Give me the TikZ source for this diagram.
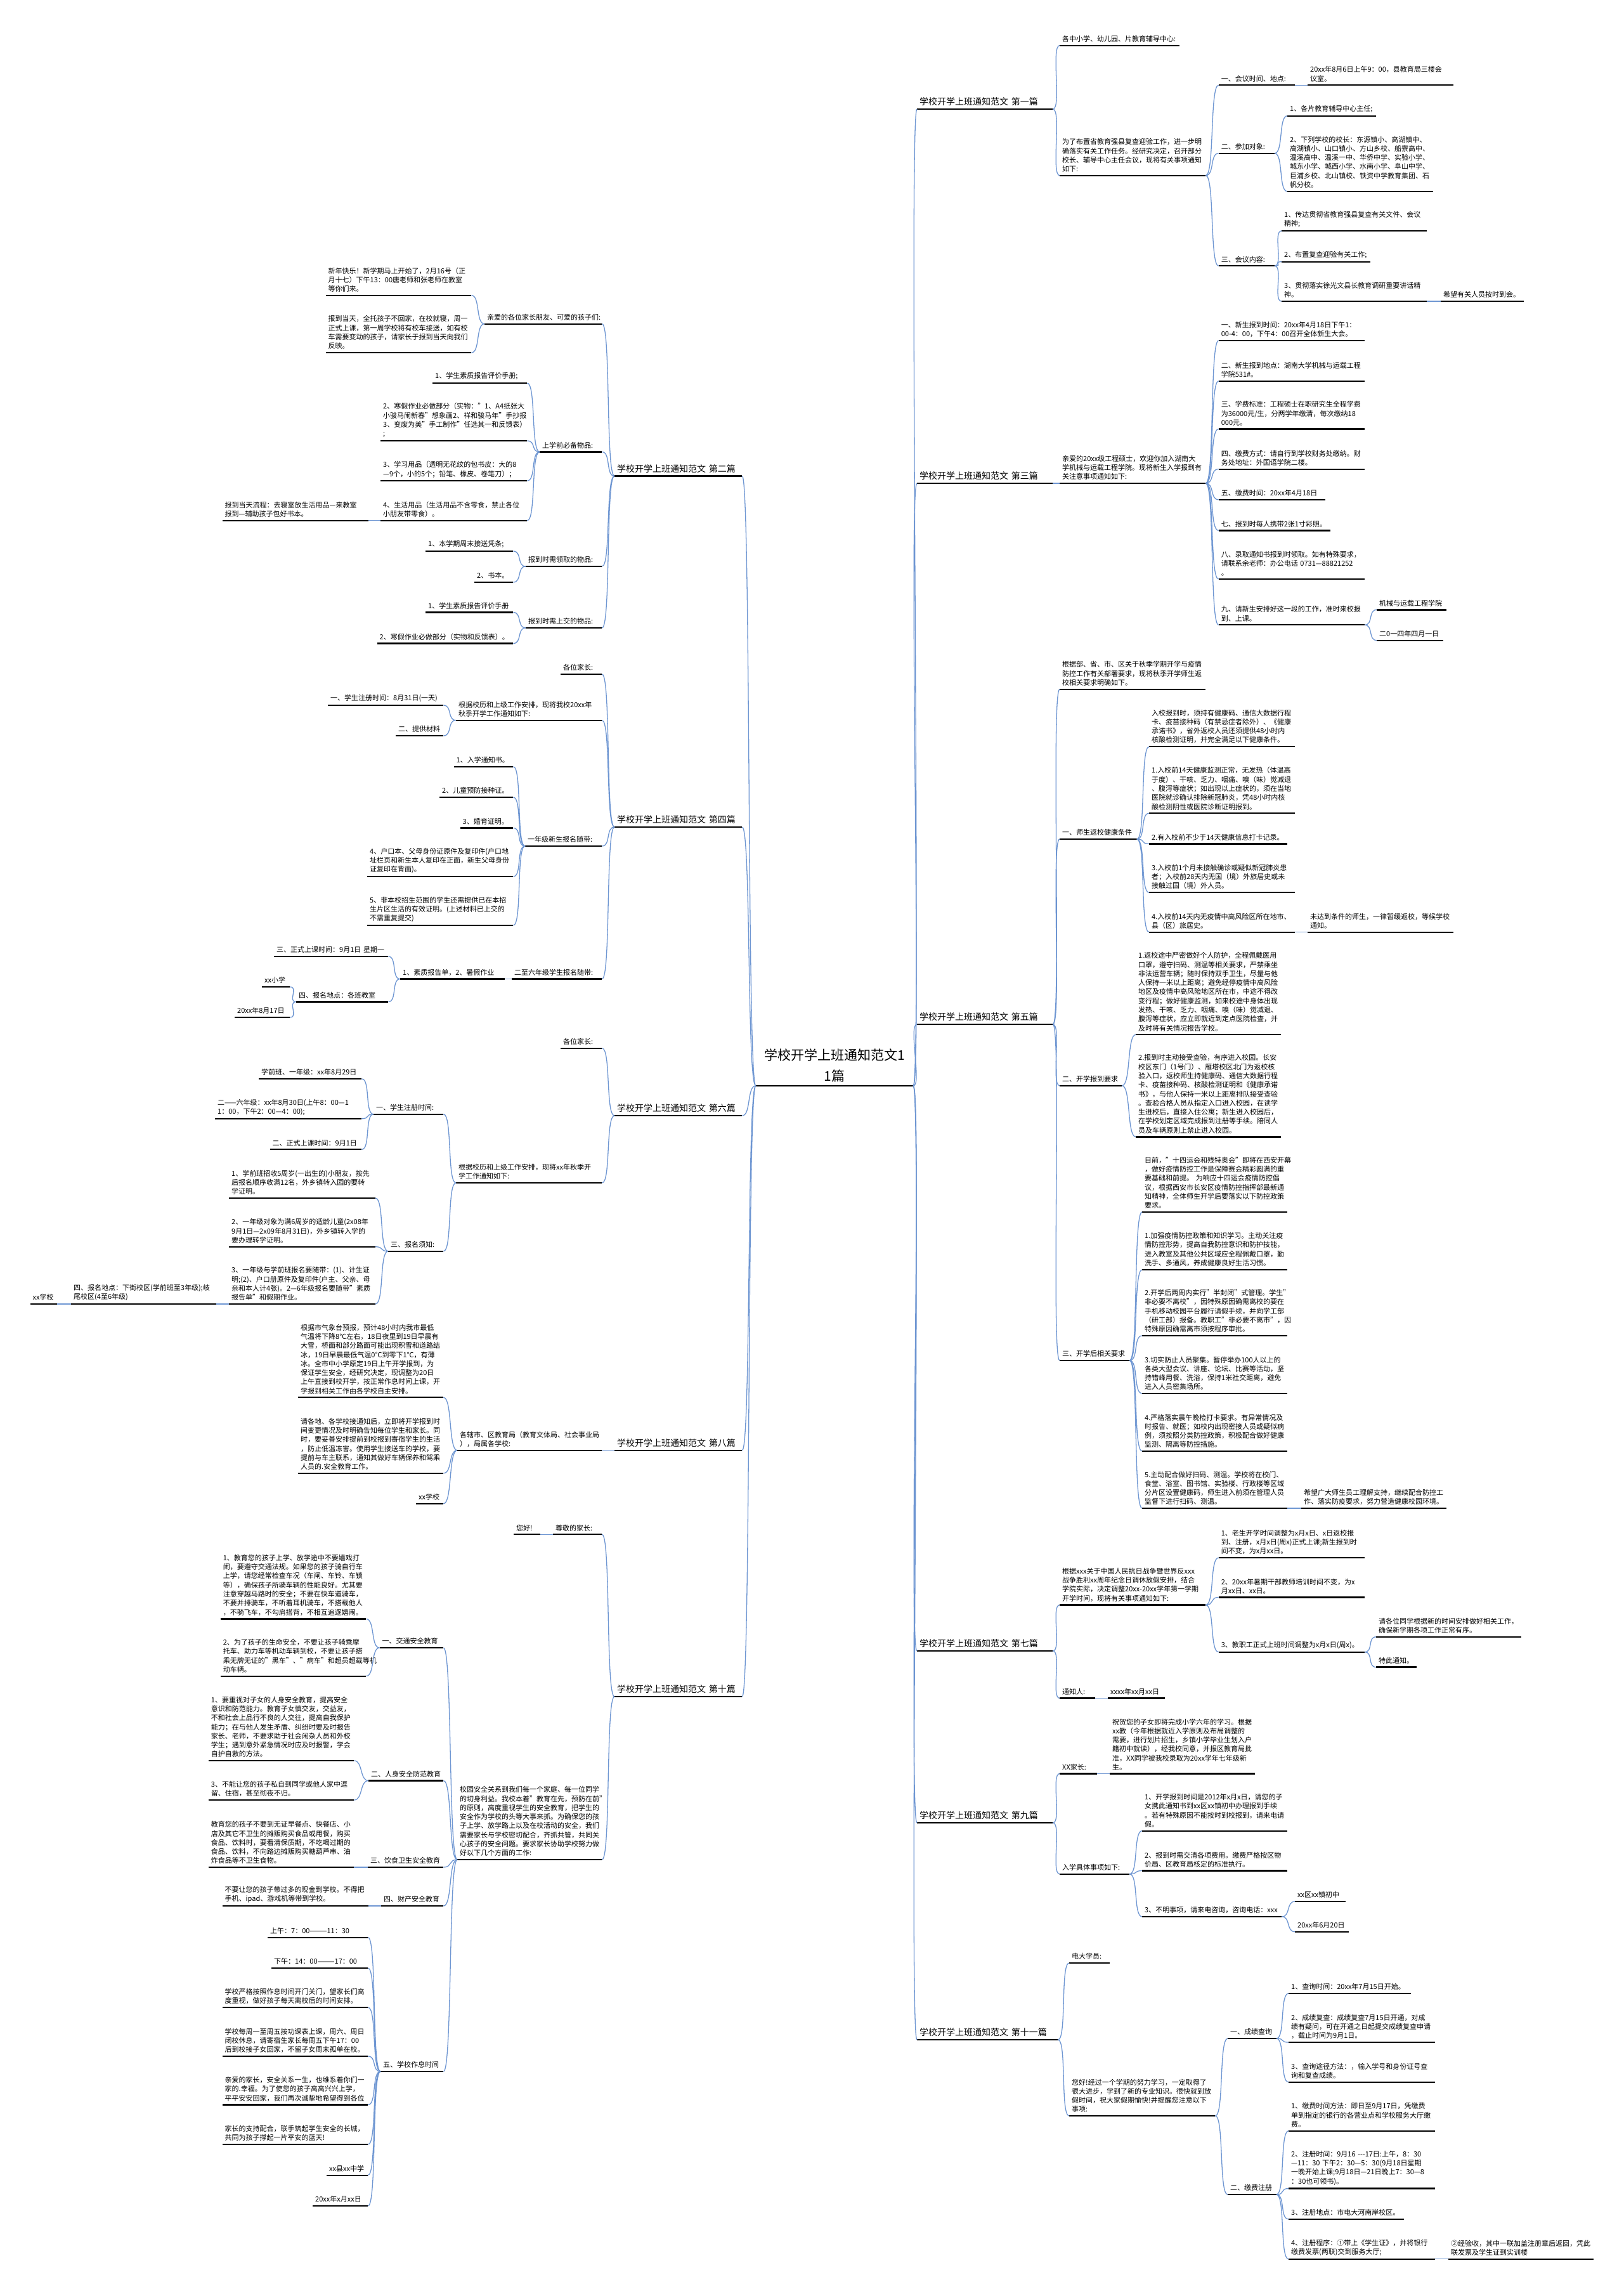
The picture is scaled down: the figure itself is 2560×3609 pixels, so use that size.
\documentclass[tikz,border=0pt]{standalone}
\usepackage{fontspec}
\setmainfont{Noto Sans CJK SC}
\definecolor{lineblue}{RGB}{110,150,210}
\newcommand{\leaffont}{\fontsize{11}{14.3}\selectfont}
\tikzset{
  uline/.style={draw=black, line width=2.2pt},
  leaf/.style={anchor=south west, align=left, inner xsep=4pt, inner ysep=5pt, font=\leaffont,
    append after command={(\tikzlastnode.south west) edge[uline] (\tikzlastnode.south east)}},
  branch/.style={leaf, font=\fontsize{14}{18}\selectfont},
  title/.style={leaf, anchor=south, align=center, inner ysep=6pt, font=\fontsize{21}{33}\selectfont},
  conn/.style={draw=lineblue, line width=1.3pt},
}
\begin{document}
\begin{tikzpicture}[x=1pt,y=-1pt]
\fill[white] (0,0) rectangle (2560,3609);
\useasboundingbox (0,0) rectangle (2560,3609);
% 中心主题
\node[title, text width=240pt] (root) at (1316,1712) {学校开学上班通知范文1\\1篇};
% 左侧分支
\node[branch, text width=193pt] (s2) at (969,750.5) {学校开学上班通知范文~第二篇};
\node[branch, text width=193pt] (s4) at (969,1304) {学校开学上班通知范文~第四篇};
\node[branch, text width=193pt] (s6) at (969,1759) {学校开学上班通知范文~第六篇};
\node[branch, text width=193pt] (s8) at (969,2286.7) {学校开学上班通知范文~第八篇};
\node[branch, text width=193pt] (s10) at (969,2675) {学校开学上班通知范文~第十篇};
% 右侧分支
\node[branch, text width=206pt] (s1) at (1446,172) {学校开学上班通知范文~第一篇};
\node[branch, text width=206pt] (s3) at (1446,762) {学校开学上班通知范文~第三篇};
\node[branch, text width=206pt] (s5) at (1446,1615) {学校开学上班通知范文~第五篇};
\node[branch, text width=206pt] (s7) at (1446,2603) {学校开学上班通知范文~第七篇};
\node[branch, text width=206pt] (s9) at (1446,2874) {学校开学上班通知范文~第九篇};
\node[branch, text width=214pt] (s11) at (1446,3216) {学校开学上班通知范文~第十一篇};

% 第二篇
\node[leaf, text width=177pt] (s2a) at (764,510.6) {亲爱的各位家长朋友、可爱的孩子们:};
\node[leaf, text width=221.5pt] (s2a1) at (513.5,465.7) {新年快乐！新学期马上开始了，2月16号（正\\月十七）下午13：00唐老师和张老师在教室\\等你们来。};
\node[leaf, text width=221.5pt] (s2a2) at (513.5,556) {报到当天，全托孩子不回家，在校就寝，周一\\正式上课，第一周学校将有校车接送，如有校\\车需要变动的孩子，请家长于报到当天向我们\\反映。};
\node[leaf, text width=90pt] (s2b) at (851,712.5) {上学前必备物品:};
\node[leaf, text width=141pt] (s2b1) at (682,604) {1、学生素质报告评价手册;};
\node[leaf, text width=223pt] (s2b2) at (600,695) {2、寒假作业必做部分（实物："1、A4纸张大\\小骏马闹新春"想象画2、祥和骏马年"手抄报\\3、变废为美"手工制作"任选其一和反馈表）\\;};
\node[leaf, text width=223pt] (s2b3) at (600,758) {3、学习用品（透明无花纹的包书皮：大的8\\—9个，小的5个；铅笔、橡皮、卷笔刀）；};
\node[leaf, text width=223pt] (s2b4) at (600,820.7) {4、生活用品（生活用品不含零食，禁止各位\\小朋友带零食）。};
\node[leaf, text width=222.5pt] (s2b4a) at (350.5,820.7) {报到当天流程：去寝室放生活用品—来教室\\报到—辅助孩子包好书本。};
\node[leaf, text width=112pt] (s2c) at (829,893) {报到时需领取的物品:};
\node[leaf, text width=130pt] (s2c1) at (671,869) {1、本学期周末接送凭条;};
\node[leaf, text width=53pt] (s2c2) at (748,918) {2、书本。};
\node[leaf, text width=112pt] (s2d) at (829,990) {报到时需上交的物品:};
\node[leaf, text width=130pt] (s2d1) at (671,965.5) {1、学生素质报告评价手册};
\node[leaf, text width=206.5pt] (s2d2) at (594.5,1014.5) {2、寒假作业必做部分（实物和反馈表）。};

% 第四篇
\node[leaf, text width=57pt] (s4a) at (884,1063) {各位家长:};
\node[leaf, text width=222pt] (s4b) at (719,1135.6) {根据校历和上级工作安排，现将我校20xx年\\秋季开学工作通知如下:};
\node[leaf, text width=174pt] (s4b1) at (517,1112) {一、学生注册时间：8月31日(一天)};
\node[leaf, text width=67pt] (s4b2) at (624,1160) {二、提供材料};
\node[leaf, text width=113pt] (s4c) at (828,1334) {一年级新生报名随带:};
\node[leaf, text width=85.5pt] (s4c1) at (715.5,1208.7) {1、入学通知书。};
\node[leaf, text width=108pt] (s4c2) at (693,1257) {2、儿童预防接种证。};
\node[leaf, text width=75.5pt] (s4c3) at (725.5,1305.5) {3、婚育证明。};
\node[leaf, text width=222pt] (s4c4) at (579,1382) {4、户口本、父母身份证原件及复印件(户口地\\址栏页和新生本人复印在正面，新生父母身份\\证复印在背面)。};
\node[leaf, text width=222pt] (s4c5) at (579,1459) {5、非本校招生范围的学生还需提供已在本招\\生片区生活的有效证明。(上述材料已上交的\\不需重复提交)};
\node[leaf, text width=134pt] (s4d) at (807,1543.5) {二至六年级学生报名随带:};
\node[leaf, text width=157pt] (s4d1) at (631,1543.5) {1、素质报告单，2、暑假作业};
\node[leaf, text width=172pt] (s4d1a) at (432,1508) {三、正式上课时间：9月1日~星期一};
\node[leaf, text width=137pt] (s4d1b) at (467,1579.5) {四、报名地点：各班教室};
\node[leaf, text width=36pt] (s4d1b1) at (413,1556) {xx小学};
\node[leaf, text width=79pt] (s4d1b2) at (370,1604) {20xx年8月17日};

% 第六篇
\node[leaf, text width=57pt] (s6a) at (884,1652.7) {各位家长:};
\node[leaf, text width=222pt] (s6b) at (719,1865) {根据校历和上级工作安排，现将xx年秋季开\\学工作通知如下:};
\node[leaf, text width=102pt] (s6b1) at (589,1756.7) {一、学生注册时间:};
\node[leaf, text width=79pt] (s6b2) at (612,1972.7) {三、报名须知:};
\node[leaf, text width=154pt] (s6b1a) at (408,1701) {学前班、一年级：xx年8月29日};
\node[leaf, text width=223pt] (s6b1b) at (339,1763.7) {二——六年级：xx年8月30日(上午8：00—1\\1：00，下午2：00—4：00);};
\node[leaf, text width=136.5pt] (s6b1c) at (425.5,1812.3) {二、正式上课时间：9月1日};
\node[leaf, text width=222.6pt] (s6b2a) at (361,1889) {1、学前班招收5周岁(一出生的)小朋友，按先\\后报名顺序收满12名，外乡镇转入园的要转\\学证明。};
\node[leaf, text width=222.6pt] (s6b2b) at (361,1965.7) {2、一年级对象为满6周岁的适龄儿童(2x08年\\9月1日—2x09年8月31日)，外乡镇转入学的\\要办理转学证明。};
\node[leaf, text width=222.6pt] (s6b2c) at (361,2056) {3、一年级与学前班报名要随带：(1)、计生证\\明;(2)、户口册原件及复印件(户主、父亲、母\\亲和本人计4张)。2—6年级报名要随带"素质\\报告单"和假期作业。};
\node[leaf, text width=221pt] (s6b2c1) at (112,2056) {四、报名地点：下街校区(学前班至3年级);岐\\尾校区(4至6年级)};
\node[leaf, text width=34.5pt] (s6b2c1a) at (47.5,2056) {xx学校};

% 第八篇
\node[leaf, text width=220pt] (s8a) at (721,2286.7) {各辖市、区教育局（教育文体局、社会事业局\\），局属各学校:};
\node[leaf, text width=221pt] (s8a1) at (470,2203.3) {根据市气象台预报，预计48小时内我市最低\\气温将下降8℃左右，18日夜里到19日早晨有\\大雪，桥面和部分路面可能出现积雪和道路结\\冰，19日早晨最低气温0℃到零下1℃，有薄\\冰。全市中小学原定19日上午开学报到，为\\保证学生安全，经研究决定，现调整为20日\\上午直接到校开学，按正常作息时间上课，开\\学报到相关工作由各学校自主安排。};
\node[leaf, text width=221pt] (s8a2) at (470,2322.7) {请各地、各学校接通知后，立即将开学报到时\\间变更情况及时明确告知每位学生和家长。同\\时，要妥善安排提前到校报到寄宿学生的生活\\，防止低温冻害。使用学生接送车的学校，要\\提前与车主联系，通知其做好车辆保养和驾乘\\人员的.安全教育工作。};
\node[leaf, text width=35pt] (s8a3) at (656,2370.7) {xx学校};

% 第十篇
\node[leaf, text width=69pt] (s10a) at (872,2419.3) {尊敬的家长:};
\node[leaf, text width=34pt] (s10a1) at (810,2419.3) {您好!};
\node[leaf, text width=220pt] (s10b) at (721,2932) {校园安全关系到我们每一个家庭、每一位同学\\的切身利益。我校本着"教育在先，预防在前"\\的原则，高度重视学生的安全教育，把学生的\\安全作为学校的头等大事来抓。为确保您的孩\\子上学、放学路上以及在校活动的安全，我们\\需要家长与学校密切配合，齐抓共管，共同关\\心孩子的安全问题。要求家长协助学校努力做\\好以下几个方面的工作:};
\node[leaf, text width=92.5pt] (s10b1) at (598.5,2598) {一、交通安全教育};
\node[leaf, text width=110pt] (s10b2) at (581,2807.5) {二、人身安全防范教育};
\node[leaf, text width=111pt] (s10b3) at (580,2944) {三、饮食卫生安全教育};
\node[leaf, text width=90pt] (s10b4) at (601,3005) {四、财产安全教育};
\node[leaf, text width=91pt] (s10b5) at (600,3266) {五、学校作息时间};
\node[leaf, text width=221.4pt] (s10b1a) at (347.6,2552.5) {1、教育您的孩子上学、放学途中不要嬉戏打\\闹，要遵守交通法规。如果您的孩子骑自行车\\上学，请您经常检查车况（车闸、车铃、车锁\\等），确保孩子所骑车辆的性能良好。尤其要\\注意穿越马路时的安全；不要在快车道骑车，\\不要并排骑车，不听着耳机骑车，不搭载他人\\，不骑飞车，不勾肩搭背，不相互追逐嬉闹。};
\node[leaf, text width=221.4pt] (s10b1b) at (347.6,2642.6) {2、为了孩子的生命安全，不要让孩子骑乘摩\\托车、助力车等机动车辆到校，不要让孩子搭\\乘无牌无证的"黑车"、"病车"和超员超载等机\\动车辆。};
\node[leaf, text width=221.3pt] (s10b2a) at (328.7,2776) {1、要重视对子女的人身安全教育，提高安全\\意识和防范能力。教育子女慎交友，交益友，\\不和社会上品行不良的人交往，提高自我保护\\能力；在与他人发生矛盾、纠纷时要及时报告\\家长、老师，不要求助于社会闲杂人员和外校\\学生；遇到意外紧急情况时应及时报警，学会\\自护自救的方法。};
\node[leaf, text width=221.3pt] (s10b2b) at (328.7,2838) {3、不能让您的孩子私自到同学或他人家中逗\\留、住宿，甚至彻夜不归。};
\node[leaf, text width=221.3pt] (s10b3a) at (328.7,2944) {教育您的孩子不要到无证早餐点、快餐店、小\\店及其它不卫生的摊贩购买食品或用餐，购买\\食品、饮料时，要看清保质期，不吃喝过期的\\食品、饮料，不向路边摊贩购买糖葫芦串、油\\炸食品等不卫生食物。};
\node[leaf, text width=222.5pt] (s10b4a) at (350.5,3005) {不要让您的孩子带过多的现金到学校。不得把\\手机、ipad、游戏机等带到学校。};
\node[leaf, text width=150pt] (s10b5a) at (422,3054.6) {上午：7：00———11：30};
\node[leaf, text width=144pt] (s10b5b) at (428,3102.8) {下午：14：00———17：00};
\node[leaf, text width=221.5pt] (s10b5c) at (350.5,3165) {学校严格按照作息时间开门关门，望家长们高\\度重视，做好孩子每天离校后的时间安排。};
\node[leaf, text width=221.5pt] (s10b5d) at (350.5,3242) {学校每周一至周五按功课表上课，周六、周日\\闭校休息，请寄宿生家长每周五下午17：00\\后到校接子女回家，不留子女周末孤单在校。};
\node[leaf, text width=221.5pt] (s10b5e) at (350.5,3318.5) {亲爱的家长，安全关系一生，也维系着你们一\\家的.幸福。为了使您的孩子高高兴兴上学，\\平平安安回家，我们再次诚挚地希望得到各位};
\node[leaf, text width=221.5pt] (s10b5f) at (350.5,3381) {家长的支持配合，联手筑起学生安全的长城，\\共同为孩子撑起一片平安的蓝天!};
\node[leaf, text width=57pt] (s10b5g) at (515,3429.6) {xx县xx中学};
\node[leaf, text width=79pt] (s10b5h) at (493,3478) {20xx年x月xx日};

% 第一篇
\node[leaf, text width=181pt] (s1a) at (1671,71.7) {各中小学、幼儿园、片教育辅导中心:};
\node[leaf, text width=222pt] (s1b) at (1671,276.7) {为了布置省教育强县复查迎验工作，进一步明\\确落实有关工作任务。经研究决定，召开部分\\校长、辅导中心主任会议，现将有关事项通知\\如下:};
\node[leaf, text width=112pt] (s1b1) at (1921.6,134.3) {一、会议时间、地点:};
\node[leaf, text width=222pt] (s1b1a) at (2062,134.3) {20xx年8月6日上午9：00，县教育局三楼会\\议室。};
\node[leaf, text width=80pt] (s1b2) at (1921.6,241.7) {二、参加对象:};
\node[leaf, text width=132pt] (s1b2a) at (2030,182.7) {1、各片教育辅导中心主任;};
\node[leaf, text width=222pt] (s1b2b) at (2030,301.7) {2、下列学校的校长：东源镇小、高湖镇中、\\高湖镇小、山口镇小、方山乡校、船寮高中、\\温溪高中、温溪一中、华侨中学、实验小学、\\城东小学、城西小学、水南小学、阜山中学、\\巨浦乡校、北山镇校、铁资中学教育集团、石\\帆分校。};
\node[leaf, text width=80pt] (s1b3) at (1921.6,419.3) {三、会议内容:};
\node[leaf, text width=221pt] (s1b3a) at (2021,364) {1、传达贯彻省教育强县复查有关文件、会议\\精神;};
\node[leaf, text width=132pt] (s1b3b) at (2021,412.7) {2、布置复查迎验有关工作;};
\node[leaf, text width=221pt] (s1b3c) at (2021,475) {3、贯彻落实徐光文县长教育调研重要讲话精\\神。};
\node[leaf, text width=123pt] (s1b3c1) at (2272,475) {希望有关人员按时到会。};

% 第三篇
\node[leaf, text width=222pt] (s3a) at (1671,762) {亲爱的20xx级工程硕士，欢迎你加入湖南大\\学机械与运载工程学院。现将新生入学报到有\\关注意事项通知如下:};
\node[leaf, text width=222pt] (s3a1) at (1921.6,537) {一、新生报到时间：20xx年4月18日下午1：\\00-4：00，下午4：00召开全体新生大会。};
\node[leaf, text width=222pt] (s3a2) at (1921.6,600.7) {二、新生报到地点：湖南大学机械与运载工程\\学院531\#。};
\node[leaf, text width=222pt] (s3a3) at (1921.6,676.4) {三、学费标准：工程硕士在职研究生全程学费\\为36000元/生，分两学年缴清，每次缴纳18\\000元。};
\node[leaf, text width=222pt] (s3a4) at (1921.6,739.6) {四、缴费方式：请自行到学校财务处缴纳。财\\务处地址：外国语学院二楼。};
\node[leaf, text width=160pt] (s3a5) at (1921.6,787.8) {五、缴费时间：20xx年4月18日};
\node[leaf, text width=168pt] (s3a7) at (1921.6,836.4) {七、报到时每人携带2张1寸彩照。};
\node[leaf, text width=222pt] (s3a8) at (1921.6,913) {八、录取通知书报到时领取。如有特殊要求，\\请联系余老师：办公电话~0731—88821252\\。};
\node[leaf, text width=222pt] (s3a9) at (1921.6,985.3) {九、请新生安排好这一段的工作，准时来校报\\到、上课。};
\node[leaf, text width=102pt] (s3a9a) at (2171,961.4) {机械与运载工程学院};
\node[leaf, text width=97pt] (s3a9b) at (2171,1009.6) {二0一四年四月一日};

% 第五篇
\node[leaf, text width=222pt] (s5a) at (1671,1086.7) {根据部、省、市、区关于秋季学期开学与疫情\\防控工作有关部署要求，现将秋季开学师生返\\校相关要求明确如下。};
\node[leaf, text width=113.5pt] (s5b) at (1671,1323) {一、师生返校健康条件};
\node[leaf, text width=90pt] (s5c) at (1671,1711.7) {二、开学报到要求};
\node[leaf, text width=102pt] (s5d) at (1671,2145) {三、开学后相关要求};
\node[leaf, text width=222pt] (s5b1) at (1812,1177.3) {入校报到时，须持有健康码、通信大数据行程\\卡、疫苗接种码（有禁忌症者除外）、《健康\\承诺书》，省外返校人员还须提供48小时内\\核酸检测证明，并完全满足以下健康条件。};
\node[leaf, text width=222pt] (s5b2) at (1812,1282.2) {1.入校前14天健康监测正常，无发热（体温高\\于度）、干咳、乏力、咽痛、嗅（味）觉减退\\、腹泻等症状；如出现以上症状的，须在当地\\医院就诊确认排除新冠肺炎，凭48小时内核\\酸检测阴性或医院诊断证明报到。};
\node[leaf, text width=210pt] (s5b3) at (1812,1330.4) {2.有入校前不少于14天健康信息打卡记录。};
\node[leaf, text width=222pt] (s5b4) at (1812,1407.2) {3.入校前1个月未接触确诊或疑似新冠肺炎患\\者；入校前28天内无国（境）外旅居史或未\\接触过国（境）外人员。};
\node[leaf, text width=222pt] (s5b5) at (1812,1469.7) {4.入校前14天内无疫情中高风险区所在地市、\\县（区）旅居史。};
\node[leaf, text width=222pt] (s5b5a) at (2062,1469.7) {未达到条件的师生，一律暂缓返校，等候学校\\通知。};
\node[leaf, text width=221pt] (s5c1) at (1791,1631.3) {1.返校途中严密做好个人防护，全程佩戴医用\\口罩，遵守扫码、测温等相关要求，严禁乘坐\\非法运营车辆；随时保持双手卫生，尽量与他\\人保持一米以上距离；避免经停疫情中高风险\\地区及疫情中高风险地区所在市，中途不得改\\变行程；做好健康监测，如来校途中身体出现\\发热、干咳、乏力、咽痛、嗅（味）觉减退、\\腹泻等症状，应立即就近到定点医院检查，并\\及时将有关情况报告学校。};
\node[leaf, text width=221pt] (s5c2) at (1791,1792.4) {2.报到时主动接受查验，有序进入校园。长安\\校区东门（1号门）、雁塔校区北门为返校核\\验入口，返校师生持健康码、通信大数据行程\\卡、疫苗接种码、核酸检测证明和《健康承诺\\书》，与他人保持一米以上距离排队接受查验\\。查验合格人员从指定入口进入校园，在读学\\生进校后，直接入住公寓；新生进入校园后，\\在学校划定区域完成报到注册等手续。陪同人\\员及车辆原则上禁止进入校园。};
\node[leaf, text width=221pt] (s5d1) at (1801,1910.8) {目前，"十四运会和残特奥会"即将在西安开幕\\，做好疫情防控工作是保障赛会精彩圆满的重\\要基础和前提。~为响应十四运会疫情防控倡\\议，根据西安市长安区疫情防控指挥部最新通\\知精神，全体师生开学后要落实以下防控政策\\要求。};
\node[leaf, text width=221pt] (s5d2) at (1801,2001.9) {1.加强疫情防控政策和知识学习。主动关注疫\\情防控形势，提高自我防控意识和防护技能，\\进入教室及其他公共区域应全程佩戴口罩，勤\\洗手、多通风，养成健康良好生活习惯。};
\node[leaf, text width=221pt] (s5d3) at (1801,2106) {2.开学后两周内实行"半封闭"式管理。学生"\\非必要不离校"，因特殊原因确需离校的要在\\手机移动校园平台履行请假手续，并向学工部\\（研工部）报备。教职工"非必要不离市"，因\\特殊原因确需离市须按程序审批。};
\node[leaf, text width=221pt] (s5d4) at (1801,2197) {3.切实防止人员聚集。暂停举办100人以上的\\各类大型会议、讲座、论坛、比赛等活动，坚\\持错峰用餐、洗浴，保持1米社交距离，避免\\进入人员密集场所。};
\node[leaf, text width=221pt] (s5d5) at (1801,2288) {4.严格落实晨午晚检打卡要求。有异常情况及\\时报告、就医；如校内出现密接人员或疑似病\\例，须按照分类防控政策，积极配合做好健康\\监测、隔离等防控措施。};
\node[leaf, text width=221pt] (s5d6) at (1801,2378) {5.主动配合做好扫码、测温。学校将在校门、\\食堂、浴室、图书馆、实验楼、行政楼等区域\\分片区设置健康码，师生进入前须在管理人员\\监督下进行扫码、测温。};
\node[leaf, text width=221pt] (s5d6a) at (2052,2378) {希望广大师生员工理解支持，继续配合防控工\\作、落实防疫要求，努力营造健康校园环境。};

% 第七篇
\node[leaf, text width=222pt] (s7a) at (1671,2530.5) {根据xxx关于中国人民抗日战争暨世界反xxx\\战争胜利xx周年纪念日调休放假安排，结合\\学院实际，决定调整20xx-20xx学年第一学期\\开学时间，现将有关事项通知如下:};
\node[leaf, text width=48pt] (s7b) at (1671,2677.5) {通知人:};
\node[leaf, text width=82pt] (s7b1) at (1747,2677.5) {xxxx年xx月xx日};
\node[leaf, text width=222pt] (s7a1) at (1921.6,2456) {1、老生开学时间调整为x月x日、x日返校报\\到、注册，x月x日(周x)正式上课;新生报到时\\间不变，为x月xx日。};
\node[leaf, text width=222pt] (s7a2) at (1921.6,2518.4) {2、20xx年暑期干部教师培训时间不变，为x\\月xx日、xx日。};
\node[leaf, text width=222pt] (s7a3) at (1921.6,2604.7) {3、教职工正式上班时间调整为x月x日(周x)。};
\node[leaf, text width=221pt] (s7a3a) at (2170,2580.8) {请各位同学根据新的时间安排做好相关工作，\\确保新学期各项工作正常有序。};
\node[leaf, text width=56pt] (s7a3b) at (2170,2628.5) {特此通知。};

% 第九篇
\node[leaf, text width=51pt] (s9a) at (1671,2796.4) {XX家长:};
\node[leaf, text width=221pt] (s9a1) at (1750,2796.4) {祝贺您的子女即将完成小学六年的学习。根据\\xx教（今年根据就近入学原则及布局调整的\\需要，进行划片招生，乡镇小学毕业生划入户\\籍初中就读），经我校同意，并报区教育局批\\准，XX同学被我校录取为20xx学年七年级新\\生。};
\node[leaf, text width=102pt] (s9b) at (1671,2954.7) {入学具体事项如下:};
\node[leaf, text width=221pt] (s9b1) at (1801,2886.6) {1、开学报到时间是2012年x月x日，请您的子\\女携此通知书到xx区xx镇初中办理报到手续\\。若有特殊原因不能按时到校报到，请来电请\\假。};
\node[leaf, text width=221pt] (s9b2) at (1801,2949.5) {2、报到时需交清各项费用。缴费严格按区物\\价局、区教育局核定的标准执行。};
\node[leaf, text width=212pt] (s9b3) at (1801,3021.9) {3、不明事项，请来电咨询，咨询电话：xxx};
\node[leaf, text width=72pt] (s9b3a) at (2042,2998) {xx区xx镇初中};
\node[leaf, text width=77pt] (s9b3b) at (2042,3045.7) {20xx年6月20日};

% 第十一篇
\node[leaf, text width=56pt] (s11a) at (1686,3095) {电大学员:};
\node[leaf, text width=222pt] (s11b) at (1686,3336) {您好!经过一个学期的努力学习，一定取得了\\很大进步，学到了新的专业知识。很快就到放\\假时间，祝大家假期愉快!并提醒您注意以下\\事项:};
\node[leaf, text width=68.5pt] (s11b1) at (1936,3214) {一、成绩查询};
\node[leaf, text width=68.5pt] (s11b2) at (1936,3460) {二、缴费注册};
\node[leaf, text width=185pt] (s11b1a) at (2032,3143) {1、查询时间：20xx年7月15日开始。};
\node[leaf, text width=223pt] (s11b1b) at (2032,3220) {2、成绩复查：成绩复查7月15日开通，对成\\绩有疑问，可在开通之日起提交成绩复查申请\\，截止时间为9月1日。};
\node[leaf, text width=223pt] (s11b1c) at (2032,3282.8) {3、查询途径方法：，输入学号和身份证号查\\询和复查成绩。};
\node[leaf, text width=223pt] (s11b2a) at (2032,3359.6) {1、缴费时间方法：即日至9月17日，凭缴费\\单到指定的银行的各营业点和学校服务大厅缴\\费。};
\node[leaf, text width=223pt] (s11b2b) at (2032,3450.5) {2、注册时间：9月16~-{}-{}-17日:上午，8：30\\—11：30~下午2：30—5：30(9月18日星期\\一晚开始上课;9月18日—21日晚上7：30—8\\：30也可领书)。};
\node[leaf, text width=174pt] (s11b2c) at (2032,3498.7) {3、注册地点：市电大河南岸校区。};
\node[leaf, text width=223pt] (s11b2d) at (2032,3561.8) {4、注册程序：①带上《学生证》，并将银行\\缴费发票(两联)交到服务大厅;};
\node[leaf, text width=221pt] (s11b2d1) at (2284,3561.8) {②经验收，其中一联加盖注册章后返回，凭此\\联发票及学生证到实训楼};

% 左侧连线
\foreach \p/\c in {root/s2, root/s4, root/s6, root/s8, root/s10,
  s2/s2a, s2/s2b, s2/s2c, s2/s2d, s2a/s2a1, s2a/s2a2,
  s2b/s2b1, s2b/s2b2, s2b/s2b3, s2b/s2b4, s2b4/s2b4a,
  s2c/s2c1, s2c/s2c2, s2d/s2d1, s2d/s2d2,
  s4/s4a, s4/s4b, s4/s4c, s4/s4d, s4b/s4b1, s4b/s4b2,
  s4c/s4c1, s4c/s4c2, s4c/s4c3, s4c/s4c4, s4c/s4c5,
  s4d/s4d1, s4d1/s4d1a, s4d1/s4d1b, s4d1b/s4d1b1, s4d1b/s4d1b2,
  s6/s6a, s6/s6b, s6b/s6b1, s6b/s6b2, s6b1/s6b1a, s6b1/s6b1b, s6b1/s6b1c,
  s6b2/s6b2a, s6b2/s6b2b, s6b2/s6b2c, s6b2c/s6b2c1, s6b2c1/s6b2c1a,
  s8/s8a, s8a/s8a1, s8a/s8a2, s8a/s8a3,
  s10/s10a, s10a/s10a1, s10/s10b,
  s10b/s10b1, s10b/s10b2, s10b/s10b3, s10b/s10b4, s10b/s10b5,
  s10b1/s10b1a, s10b1/s10b1b, s10b2/s10b2a, s10b2/s10b2b,
  s10b3/s10b3a, s10b4/s10b4a,
  s10b5/s10b5a, s10b5/s10b5b, s10b5/s10b5c, s10b5/s10b5d,
  s10b5/s10b5e, s10b5/s10b5f, s10b5/s10b5g, s10b5/s10b5h}
  \draw[conn] (\p.south west) .. controls +(-14,0) and +(14,0) .. (\c.south east);

% 右侧连线
\foreach \p/\c in {root/s1, root/s3, root/s5, root/s7, root/s9, root/s11,
  s1/s1a, s1/s1b, s1b/s1b1, s1b1/s1b1a, s1b/s1b2, s1b2/s1b2a, s1b2/s1b2b,
  s1b/s1b3, s1b3/s1b3a, s1b3/s1b3b, s1b3/s1b3c, s1b3c/s1b3c1,
  s3/s3a, s3a/s3a1, s3a/s3a2, s3a/s3a3, s3a/s3a4, s3a/s3a5, s3a/s3a7,
  s3a/s3a8, s3a/s3a9, s3a9/s3a9a, s3a9/s3a9b,
  s5/s5a, s5/s5b, s5/s5c, s5/s5d,
  s5b/s5b1, s5b/s5b2, s5b/s5b3, s5b/s5b4, s5b/s5b5, s5b5/s5b5a,
  s5c/s5c1, s5c/s5c2,
  s5d/s5d1, s5d/s5d2, s5d/s5d3, s5d/s5d4, s5d/s5d5, s5d/s5d6, s5d6/s5d6a,
  s7/s7a, s7/s7b, s7b/s7b1, s7a/s7a1, s7a/s7a2, s7a/s7a3, s7a3/s7a3a, s7a3/s7a3b,
  s9/s9a, s9a/s9a1, s9/s9b, s9b/s9b1, s9b/s9b2, s9b/s9b3, s9b3/s9b3a, s9b3/s9b3b,
  s11/s11a, s11/s11b, s11b/s11b1, s11b/s11b2,
  s11b1/s11b1a, s11b1/s11b1b, s11b1/s11b1c,
  s11b2/s11b2a, s11b2/s11b2b, s11b2/s11b2c, s11b2/s11b2d, s11b2d/s11b2d1}
  \draw[conn] (\p.south east) .. controls +(14,0) and +(-14,0) .. (\c.south west);
\end{tikzpicture}
\end{document}
